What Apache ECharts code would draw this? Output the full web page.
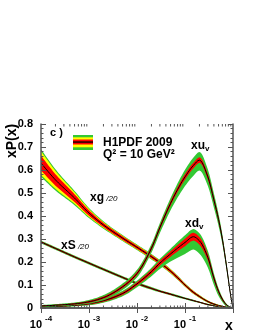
<!DOCTYPE html>
<html><head><meta charset="utf-8">
<script src="https://cdn.jsdelivr.net/npm/echarts@6.0.0/dist/echarts.min.js"></script>
<style>html,body{margin:0;padding:0;background:#fff}#c{width:257px;height:332px}</style>
</head><body><div id="c"></div>
<script>
// x grid (momentum fraction)
const xs = [1e-4, 2e-4, 5e-4, 1e-3, 2e-3, 5e-3, 0.01, 0.02, 0.03, 0.05, 0.07, 0.1, 0.15, 0.2, 0.3, 0.4, 0.5, 0.6, 0.7, 0.8, 0.9, 1];

// xu_v
const xuvCenter = [0.009,0.012,0.018,0.027,0.045,0.092,0.15,0.26,0.35,0.455,0.515,0.57,0.62,0.643,0.57,0.47,0.385,0.3,0.21,0.125,0.05,0];
const xuvRed    = [0.002,0.002,0.003,0.004,0.005,0.006,0.007,0.008,0.009,0.01,0.011,0.012,0.012,0.012,0.012,0.011,0.01,0.009,0.008,0.006,0.004,0];
const xuvGrnUp  = [0.004,0.005,0.006,0.008,0.011,0.014,0.016,0.018,0.02,0.023,0.027,0.031,0.034,0.035,0.032,0.028,0.024,0.02,0.016,0.012,0.007,0];
const xuvGrnDn  = [0.004,0.005,0.006,0.008,0.011,0.014,0.017,0.02,0.024,0.03,0.035,0.04,0.045,0.045,0.04,0.034,0.028,0.022,0.016,0.012,0.007,0];

// xd_v
const xdvCenter = [0.005,0.007,0.012,0.019,0.032,0.063,0.105,0.158,0.195,0.235,0.26,0.285,0.31,0.292,0.22,0.13,0.072,0.038,0.018,0.007,0.002,0];
const xdvRed    = [0.002,0.002,0.003,0.004,0.005,0.006,0.007,0.009,0.01,0.012,0.014,0.016,0.017,0.017,0.014,0.01,0.007,0.005,0.003,0.002,0.001,0];
const xdvGrnUp  = [0.003,0.004,0.005,0.007,0.009,0.012,0.014,0.017,0.019,0.023,0.027,0.031,0.033,0.033,0.028,0.02,0.014,0.009,0.006,0.004,0.002,0];
const xdvGrnDn  = [0.003,0.004,0.005,0.007,0.009,0.012,0.015,0.02,0.025,0.033,0.042,0.05,0.056,0.056,0.045,0.03,0.02,0.012,0.008,0.005,0.002,0];

// xg / 20
const xgCenter = [0.63,0.557,0.478,0.413,0.361,0.304,0.264,0.223,0.197,0.16,0.132,0.1,0.068,0.05,0.028,0.017,0.011,0.007,0.004,0.002,0.0007,0];
const xgRed    = [0.032,0.025,0.017,0.012,0.009,0.008,0.007,0.007,0.007,0.006,0.006,0.005,0.005,0.004,0.003,0.003,0.002,0.002,0.002,0.001,0.001,0];
const xgYellow = [0.052,0.039,0.025,0.017,0.012,0.01,0.009,0.009,0.008,0.008,0.007,0.006,0.006,0.005,0.004,0.003,0.003,0.002,0.002,0.001,0.001,0];
const xgGreen  = [0.06,0.046,0.031,0.022,0.016,0.013,0.012,0.012,0.011,0.01,0.009,0.008,0.007,0.006,0.005,0.004,0.003,0.003,0.002,0.002,0.001,0];

// xS / 20
const xsCenter = [0.287,0.259,0.222,0.195,0.168,0.133,0.107,0.085,0.073,0.06,0.051,0.042,0.032,0.025,0.015,0.01,0.006,0.004,0.002,0.001,0.0003,0];
const xsRed    = [0.003,0.003,0.003,0.003,0.003,0.003,0.003,0.003,0.003,0.003,0.002,0.002,0.002,0.002,0.002,0.001,0.001,0.001,0.001,0,0,0];
const xsGreen  = [0.006,0.006,0.006,0.006,0.006,0.006,0.006,0.006,0.005,0.005,0.005,0.004,0.004,0.003,0.003,0.002,0.002,0.001,0.001,0.001,0,0];

// axis ticks / labels
const xTickValues = [1e-4, 1e-3, 1e-2, 1e-1];
const xTickExponents = ['-4', '-3', '-2', '-1'];
const xMinorTicks = [2e-4,3e-4,4e-4,5e-4,6e-4,7e-4,8e-4,9e-4,2e-3,3e-3,4e-3,5e-3,6e-3,7e-3,8e-3,9e-3,0.02,0.03,0.04,0.05,0.06,0.07,0.08,0.09,0.2,0.3,0.4,0.5,0.6,0.7,0.8,0.9];
const yTickLabels = ['0','0.1','0.2','0.3','0.4','0.5','0.6','0.7','0.8'];

const GREEN = '#33c833', YELLOW = '#ffff00', RED = '#ff0000', BLACK = '#000000', FRAME = '#555555';
const FONT = '"Liberation Sans", Arial, Helvetica, sans-serif';

// monotone cubic (Fritsch-Butland) rendering of a pixel polyline
function spline(p) {
  const n = p.length;
  if (n < 3) return p.slice();
  const m = [], t = [];
  for (let i = 0; i < n - 1; i++) {
    const dx = p[i + 1][0] - p[i][0];
    m.push(dx === 0 ? 0 : (p[i + 1][1] - p[i][1]) / dx);
  }
  t[0] = m[0]; t[n - 1] = m[n - 2];
  for (let i = 1; i < n - 1; i++) {
    if (m[i - 1] * m[i] <= 0) { t[i] = 0; continue; }
    const h0 = p[i][0] - p[i - 1][0], h1 = p[i + 1][0] - p[i][0];
    t[i] = 3 * (h0 + h1) / ((2 * h1 + h0) / m[i - 1] + (h1 + 2 * h0) / m[i]);
  }
  const out = [];
  for (let i = 0; i < n - 1; i++) {
    const h = p[i + 1][0] - p[i][0];
    const steps = Math.max(2, Math.ceil(h / 1.5));
    for (let k = 0; k < steps; k++) {
      const s = k / steps, s2 = s * s, s3 = s2 * s;
      const y = (2 * s3 - 3 * s2 + 1) * p[i][1] + (s3 - 2 * s2 + s) * h * t[i] +
                (-2 * s3 + 3 * s2) * p[i + 1][1] + (s3 - s2) * h * t[i + 1];
      out.push([p[i][0] + s * h, y]);
    }
  }
  out.push(p[n - 1].slice());
  return out;
}

function bandLayer(lo, hi, color) {
  return {
    type: 'custom', silent: true, clip: true,
    data: xs.map((x, i) => [x, Math.max(0, lo[i]), hi[i]]),
    encode: { x: 0, y: [1, 2] },
    renderItem: function (params, api) {
      if (params.dataIndexInside !== 0) return null;
      const n = params.dataInsideLength;
      const up = [], dn = [];
      for (let i = 0; i < n; i++) {
        const x = api.value(0, i);
        up.push(api.coord([x, api.value(2, i)]));
        dn.push(api.coord([x, api.value(1, i)]));
      }
      const pts = spline(up).concat(spline(dn).reverse());
      return { type: 'polygon', shape: { points: pts }, style: { fill: color } };
    }
  };
}

function centerLine(c) {
  return {
    type: 'custom', silent: true, clip: true,
    data: xs.map((x, i) => [x, c[i]]),
    encode: { x: 0, y: 1 },
    renderItem: function (params, api) {
      if (params.dataIndexInside !== 0) return null;
      const n = params.dataInsideLength;
      const pts = [];
      for (let i = 0; i < n; i++) pts.push(api.coord([api.value(0, i), api.value(1, i)]));
      return { type: 'polyline', shape: { points: spline(pts) }, style: { stroke: BLACK, lineWidth: 1, fill: null } };
    }
  };
}

function curve(c, r, y, gu, gd) {
  const s = [bandLayer(c.map((v, i) => v - gd[i]), c.map((v, i) => v + gu[i]), GREEN)];
  if (y) s.push(bandLayer(c.map((v, i) => v - y[i]), c.map((v, i) => v + y[i]), YELLOW));
  s.push(bandLayer(c.map((v, i) => v - r[i]), c.map((v, i) => v + r[i]), RED));
  s.push(centerLine(c));
  return s;
}

const series = [].concat(
  curve(xsCenter, xsRed, null, xsGreen, xsGreen),
  curve(xgCenter, xgRed, xgYellow, xgGreen, xgGreen),
  curve(xdvCenter, xdvRed, null, xdvGrnUp, xdvGrnDn),
  curve(xuvCenter, xuvRed, null, xuvGrnUp, xuvGrnDn)
);

series.push({
  type: 'custom', silent: true, clip: false, z: 10,
  data: xMinorTicks.map(x => [x, 0]),
  renderItem: function (params, api) {
    const x = api.value(0);
    const b = api.coord([x, 0]);
    const t = api.coord([x, 0.8]);
    return { type: 'group', children: [
      { type: 'line', shape: { x1: b[0], y1: b[1], x2: b[0], y2: b[1] - 2.5 }, style: { stroke: FRAME, lineWidth: 1 } },
      { type: 'line', shape: { x1: t[0], y1: t[1], x2: t[0], y2: t[1] + 2.5 }, style: { stroke: FRAME, lineWidth: 1 } }
    ] };
  }
});

function xLabel(v) {
  const idx = xTickValues.findIndex(t => Math.abs(Math.log10(t) - Math.log10(v)) < 1e-6);
  return idx < 0 ? '' : '{b|10}{s|' + xTickExponents[idx] + '}';
}

const axisLine = { show: true, lineStyle: { color: FRAME, width: 1.5 } };
const option = {
  animation: false,
  backgroundColor: '#fff',
  grid: { left: 41, top: 124, right: 24, bottom: 24, containLabel: false },
  xAxis: [{
    type: 'log', logBase: 10, min: 1e-4, max: 1, position: 'bottom', z: 5,
    axisLine: axisLine, splitLine: { show: false },
    axisTick: { show: true, inside: true, length: 5, lineStyle: { color: FRAME, width: 1 } },
    axisLabel: {
      show: true, margin: 3, formatter: xLabel, color: '#000',
      rich: {
        b: { fontFamily: FONT, fontWeight: 'bold', fontSize: 11, color: '#000', padding: [8, 0, 0, 0] },
        s: { fontFamily: FONT, fontWeight: 'bold', fontSize: 8, color: '#000', padding: [0, 0, 4, 3] }
      }
    }
  }, {
    type: 'log', logBase: 10, min: 1e-4, max: 1, position: 'top', z: 5,
    axisLine: axisLine, splitLine: { show: false },
    axisTick: { show: true, inside: true, length: 5, lineStyle: { color: FRAME, width: 1 } },
    axisLabel: { show: false }
  }],
  yAxis: [{
    type: 'value', min: 0, max: 0.8, interval: 0.1, position: 'left', z: 5,
    axisLine: axisLine, splitLine: { show: false },
    axisTick: { show: true, inside: true, length: 5, lineStyle: { color: FRAME, width: 1 } },
    minorTick: { show: true, splitNumber: 5, length: 2.5, lineStyle: { color: FRAME, width: 1 } },
    axisLabel: { show: true, margin: 8, color: '#000', fontFamily: FONT, fontWeight: 'bold', fontSize: 11,
      formatter: (v, i) => yTickLabels[i] }
  }, {
    type: 'value', min: 0, max: 0.8, interval: 0.1, position: 'right', z: 5,
    axisLine: axisLine, splitLine: { show: false },
    axisTick: { show: true, inside: true, length: 5, lineStyle: { color: FRAME, width: 1 } },
    minorTick: { show: true, splitNumber: 5, length: 2.5, lineStyle: { color: FRAME, width: 1 } },
    axisLabel: { show: false }
  }],
  series: series,
  graphic: [
    { type: 'text', x: 12, y: 141, rotation: Math.PI / 2,
      style: { text: 'xP(x)', fontFamily: FONT, fontWeight: 'bold', fontSize: 14, fill: '#000', align: 'center', verticalAlign: 'middle' } },
    { type: 'text', x: 229, y: 326,
      style: { text: 'x', fontFamily: FONT, fontWeight: 'bold', fontSize: 14, fill: '#000', align: 'center', verticalAlign: 'middle' } },
    { type: 'text', x: 50, y: 133,
      style: { text: 'c )', fontFamily: FONT, fontWeight: 'bold', fontSize: 11, fill: '#000', align: 'left', verticalAlign: 'middle' } },
    { type: 'rect', shape: { x: 73, y: 135, width: 20, height: 15 }, style: { fill: GREEN } },
    { type: 'rect', shape: { x: 73, y: 137.3, width: 20, height: 10 }, style: { fill: YELLOW } },
    { type: 'rect', shape: { x: 73, y: 139.5, width: 20, height: 5 }, style: { fill: RED } },
    { type: 'rect', shape: { x: 73, y: 141.4, width: 20, height: 1.3 }, style: { fill: BLACK } },
    { type: 'text', x: 103, y: 143,
      style: { text: 'H1PDF 2009', fontFamily: FONT, fontWeight: 'bold', fontSize: 12, fill: '#000', align: 'left', verticalAlign: 'middle' } },
    { type: 'text', x: 103, y: 155,
      style: { text: 'Q² = 10 GeV²', fontFamily: FONT, fontWeight: 'bold', fontSize: 12, fill: '#000', align: 'left', verticalAlign: 'middle' } },
    { type: 'text', x: 191, y: 146,
      style: { text: '{b|xu}{s|v}', align: 'left', verticalAlign: 'middle',
        rich: { b: { fontFamily: FONT, fontWeight: 'bold', fontSize: 12, fill: '#000' },
                s: { fontFamily: FONT, fontWeight: 'bold', fontSize: 8, fill: '#000', padding: [6, 0, 0, 0] } } } },
    { type: 'text', x: 185, y: 224,
      style: { text: '{b|xd}{s|v}', align: 'left', verticalAlign: 'middle',
        rich: { b: { fontFamily: FONT, fontWeight: 'bold', fontSize: 12, fill: '#000' },
                s: { fontFamily: FONT, fontWeight: 'bold', fontSize: 8, fill: '#000', padding: [6, 0, 0, 0] } } } },
    { type: 'text', x: 90, y: 198,
      style: { text: '{b|xg}{s| /20}', align: 'left', verticalAlign: 'middle',
        rich: { b: { fontFamily: FONT, fontWeight: 'bold', fontSize: 12, fill: '#000' },
                s: { fontFamily: FONT, fontStyle: 'italic', fontSize: 8, fill: '#000', padding: [2, 0, 0, 0] } } } },
    { type: 'text', x: 61, y: 246,
      style: { text: '{b|xS}{s| /20}', align: 'left', verticalAlign: 'middle',
        rich: { b: { fontFamily: FONT, fontWeight: 'bold', fontSize: 12, fill: '#000' },
                s: { fontFamily: FONT, fontStyle: 'italic', fontSize: 8, fill: '#000', padding: [2, 0, 0, 0] } } } }
  ]
};

const chart = echarts.init(document.getElementById('c'), null, { renderer: 'canvas', width: 257, height: 332 });
chart.setOption(option);
</script>
</body></html>
